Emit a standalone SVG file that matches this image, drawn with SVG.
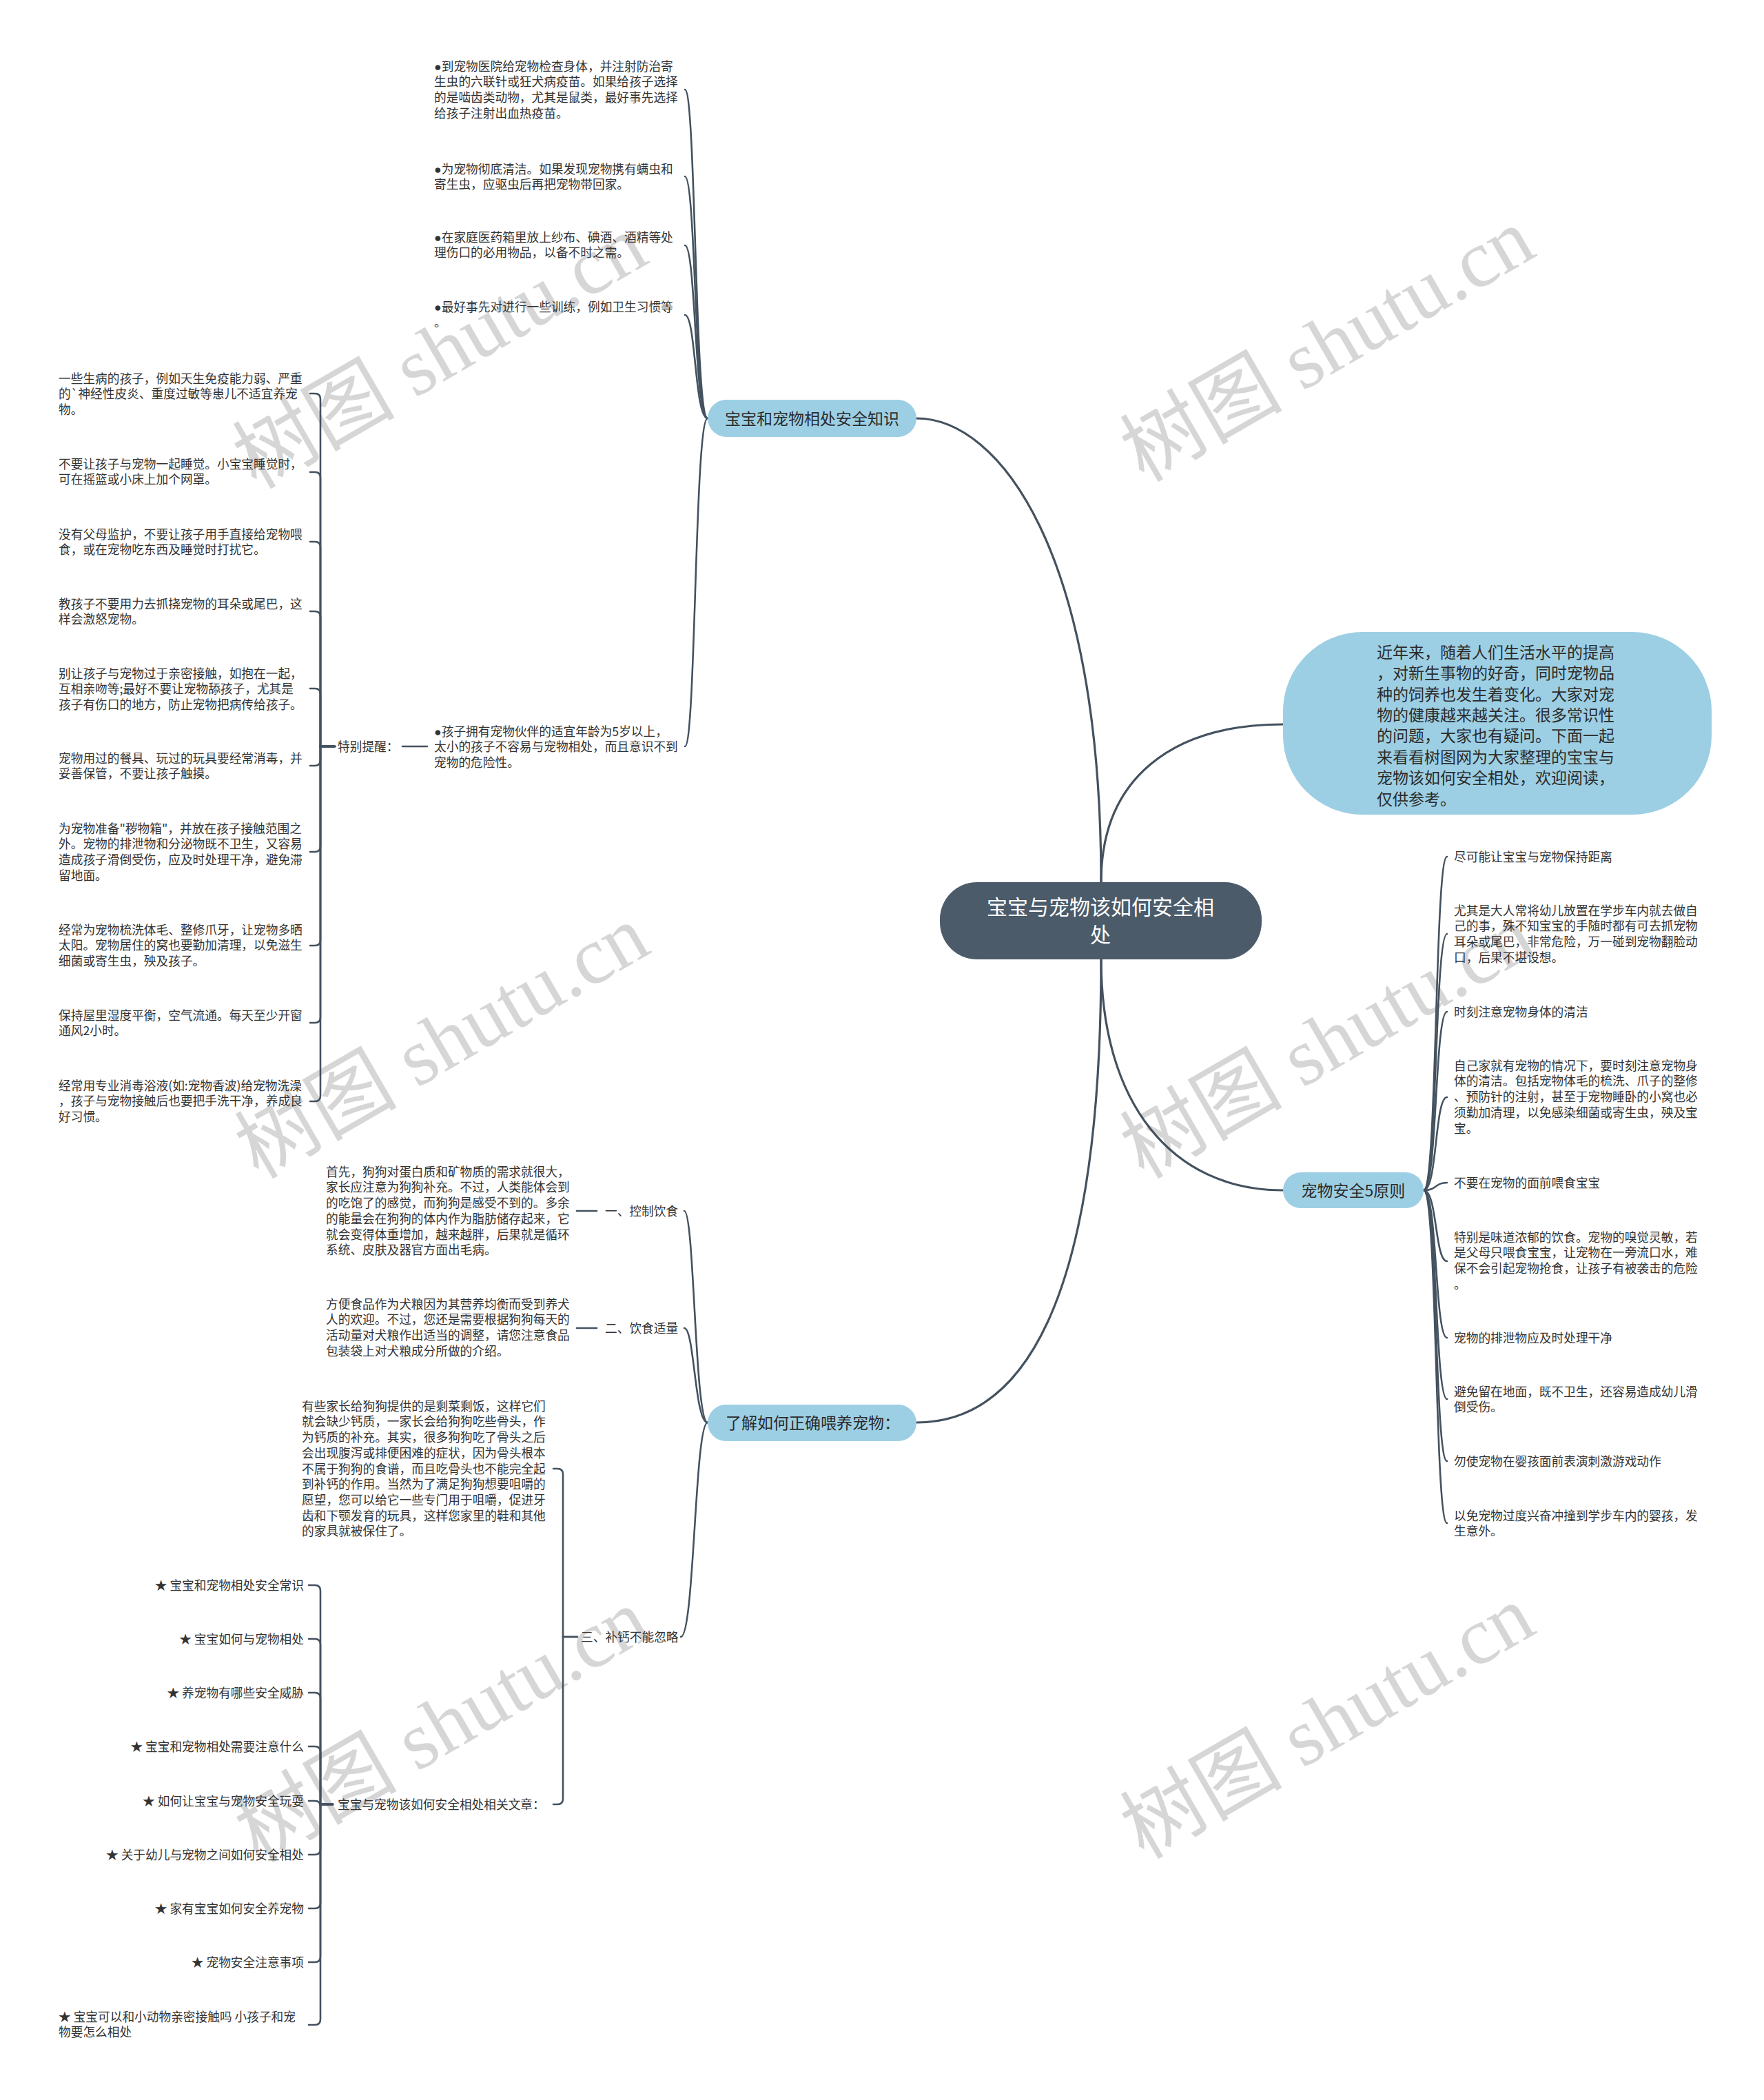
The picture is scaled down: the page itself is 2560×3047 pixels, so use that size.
<svg xmlns="http://www.w3.org/2000/svg" width="2560" height="3047" viewBox="0 0 2560 3047">
<style>
.t{font-family:"Noto Sans CJK SC","Liberation Sans",sans-serif;font-size:17.7px;fill:#333333}
.bu{font-family:"Liberation Sans","Noto Sans CJK SC",sans-serif}
.b{font-family:"Noto Sans CJK SC","Liberation Sans",sans-serif;font-size:23px;fill:#2b2b2b}
.rt{font-family:"Noto Sans CJK SC","Liberation Sans",sans-serif;font-size:30px;fill:#ffffff}
.c{fill:none;stroke:#44525f;stroke-width:2.6;stroke-linecap:round}
.cm{fill:none;stroke:#44525f;stroke-width:3.2;stroke-linecap:round}
.blue{fill:#9dcfe4}
.wm{font-family:"Liberation Serif","Noto Sans CJK SC",serif;font-size:118px;fill:#d6d6d6}
</style>
<rect x="0" y="0" width="2560" height="3047" fill="#ffffff"/>
<g id="watermarks">
<text class="wm" x="641" y="550" text-anchor="middle" transform="rotate(-30 641 515)">树图 shutu.cn</text>
<text class="wm" x="1929" y="540" text-anchor="middle" transform="rotate(-30 1929 505)">树图 shutu.cn</text>
<text class="wm" x="644" y="1551" text-anchor="middle" transform="rotate(-30 644 1516)">树图 shutu.cn</text>
<text class="wm" x="1929" y="1551" text-anchor="middle" transform="rotate(-30 1929 1516)">树图 shutu.cn</text>
<text class="wm" x="644" y="2543" text-anchor="middle" transform="rotate(-30 644 2508)">树图 shutu.cn</text>
<text class="wm" x="1929" y="2538" text-anchor="middle" transform="rotate(-30 1929 2503)">树图 shutu.cn</text>
</g>
<g id="connectors">
<path class="cm" d="M1598 1280 C1598 800 1450 607 1330 607"/>
<path class="cm" d="M1598 1280 C1598 1130 1700 1051 1862 1051"/>
<path class="cm" d="M1598 1392 C1598 1600 1700 1727 1862 1727"/>
<path class="cm" d="M1598 1392 C1598 1900 1480 2064 1330 2064"/>
<path class="c" d="M994 130 C1010 130 1008 607 1027 607"/>
<path class="c" d="M994 256 C1010 256 1008 607 1027 607"/>
<path class="c" d="M994 356 C1010 356 1008 607 1027 607"/>
<path class="c" d="M994 457 C1010 457 1008 607 1027 607"/>
<path class="c" d="M994 1083 C1010 1083 1008 607 1027 607"/>
<path class="c" d="M620 1083 H584"/>
<path class="c" d="M486 1083 H465 V579 Q465 571 457 571 H450"/>
<path class="c" d="M486 1083 H465 V693 Q465 685 457 685 H450"/>
<path class="c" d="M486 1083 H465 V794 Q465 786 457 786 H450"/>
<path class="c" d="M486 1083 H465 V895 Q465 887 457 887 H450"/>
<path class="c" d="M486 1083 H465 V1007 Q465 999 457 999 H450"/>
<path class="c" d="M486 1083 H465 V1103 Q465 1111 457 1111 H450"/>
<path class="c" d="M486 1083 H465 V1228 Q465 1236 457 1236 H450"/>
<path class="c" d="M486 1083 H465 V1364 Q465 1372 457 1372 H450"/>
<path class="c" d="M486 1083 H465 V1476 Q465 1484 457 1484 H450"/>
<path class="c" d="M486 1083 H465 V1590 Q465 1598 457 1598 H450"/>
<path class="c" d="M2066 1727 C2086 1727 2082 1243 2100 1243"/>
<path class="c" d="M2066 1727 C2086 1727 2082 1355 2100 1355"/>
<path class="c" d="M2066 1727 C2086 1727 2082 1468 2100 1468"/>
<path class="c" d="M2066 1727 C2086 1727 2082 1592 2100 1592"/>
<path class="c" d="M2066 1727 C2086 1727 2082 1716 2100 1716"/>
<path class="c" d="M2066 1727 C2086 1727 2082 1830 2100 1830"/>
<path class="c" d="M2066 1727 C2086 1727 2082 1941 2100 1941"/>
<path class="c" d="M2066 1727 C2086 1727 2082 2030 2100 2030"/>
<path class="c" d="M2066 1727 C2086 1727 2082 2120 2100 2120"/>
<path class="c" d="M2066 1727 C2086 1727 2082 2210 2100 2210"/>
<path class="c" d="M993 1757 C1008 1757 1008 2064 1027 2064"/>
<path class="c" d="M993 1927 C1008 1927 1008 2064 1027 2064"/>
<path class="c" d="M988 2375 C1008 2375 1008 2064 1027 2064"/>
<path class="c" d="M866 1757 H837"/>
<path class="c" d="M866 1927 H837"/>
<path class="c" d="M838 2375 H817 V2139 Q817 2131 809 2131 H803"/>
<path class="c" d="M838 2375 H817 V2610 Q817 2618 809 2618 H803"/>
<path class="c" d="M483 2618 H465 V2308 Q465 2300 457 2300 H448"/>
<path class="c" d="M483 2618 H465 V2386 Q465 2378 457 2378 H448"/>
<path class="c" d="M483 2618 H465 V2464 Q465 2456 457 2456 H448"/>
<path class="c" d="M483 2618 H465 V2542 Q465 2534 457 2534 H448"/>
<path class="c" d="M483 2618 H465 V2621 Q465 2613 457 2613 H448"/>
<path class="c" d="M483 2618 H465 V2683 Q465 2691 457 2691 H448"/>
<path class="c" d="M483 2618 H465 V2761 Q465 2769 457 2769 H448"/>
<path class="c" d="M483 2618 H465 V2839 Q465 2847 457 2847 H448"/>
<path class="c" d="M483 2618 H465 V2930 Q465 2938 457 2938 H448"/>
</g>
<g id="root">
<rect x="1364" y="1280" width="467" height="112" rx="54" fill="#4b5b6a"/>
<text class="rt" text-anchor="middle"><tspan x="1597" y="1327.4">宝宝与宠物该如何安全相</tspan><tspan x="1597" y="1367.4">处</tspan></text>
</g>
<g id="intro">
<rect class="blue" x="1862" y="917" width="622" height="265" rx="115"/>
<text class="b"><tspan x="1998" y="954.7">近年来，随着人们生活水平的提高</tspan><tspan x="1998" dy="30.4">，对新生事物的好奇，同时宠物品</tspan><tspan x="1998" dy="30.4">种的饲养也发生着变化。大家对宠</tspan><tspan x="1998" dy="30.4">物的健康越来越关注。很多常识性</tspan><tspan x="1998" dy="30.4">的问题，大家也有疑问。下面一起</tspan><tspan x="1998" dy="30.4">来看看树图网为大家整理的宝宝与</tspan><tspan x="1998" dy="30.4">宠物该如何安全相处，欢迎阅读，</tspan><tspan x="1998" dy="30.4">仅供参考。</tspan></text>
</g>
<g id="branch-knowledge">
<rect class="blue" x="1027" y="580" width="303" height="54" rx="27"/>
<text class="b" x="1178.5" y="615.7" text-anchor="middle">宝宝和宠物相处安全知识</text>
</g>
<g id="k1"><text class="t"><tspan x="630" y="102.7"><tspan class="bu">●</tspan>到宠物医院给宠物检查身体，并注射防治寄</tspan><tspan x="630" dy="22.7">生虫的六联针或狂犬病疫苗。如果给孩子选择</tspan><tspan x="630" dy="22.7">的是啮齿类动物，尤其是鼠类，最好事先选择</tspan><tspan x="630" dy="22.7">给孩子注射出血热疫苗。</tspan></text></g>
<g id="k2"><text class="t"><tspan x="630" y="251.7"><tspan class="bu">●</tspan>为宠物彻底清洁。如果发现宠物携有螨虫和</tspan><tspan x="630" dy="22.7">寄生虫，应驱虫后再把宠物带回家。</tspan></text></g>
<g id="k3"><text class="t"><tspan x="630" y="350.7"><tspan class="bu">●</tspan>在家庭医药箱里放上纱布、碘酒、酒精等处</tspan><tspan x="630" dy="22.7">理伤口的必用物品，以备不时之需。</tspan></text></g>
<g id="k4"><text class="t"><tspan x="630" y="451.7"><tspan class="bu">●</tspan>最好事先对进行一些训练，例如卫生习惯等</tspan><tspan x="630" dy="22.7">。</tspan></text></g>
<g id="k5"><text class="t"><tspan x="630" y="1067.7"><tspan class="bu">●</tspan>孩子拥有宠物伙伴的适宜年龄为5岁以上，</tspan><tspan x="630" dy="22.7">太小的孩子不容易与宠物相处，而且意识不到</tspan><tspan x="630" dy="22.7">宠物的危险性。</tspan></text></g>
<g id="remind"><text class="t" x="490" y="1089.7">特别提醒：</text></g>
<g id="ra"><text class="t"><tspan x="85" y="555.7">一些生病的孩子，例如天生免疫能力弱、严重</tspan><tspan x="85" dy="22.7">的`神经性皮炎、重度过敏等患儿不适宜养宠</tspan><tspan x="85" dy="22.7">物。</tspan></text></g>
<g id="rb"><text class="t"><tspan x="85" y="679.7">不要让孩子与宠物一起睡觉。小宝宝睡觉时，</tspan><tspan x="85" dy="22.7">可在摇篮或小床上加个网罩。</tspan></text></g>
<g id="rc"><text class="t"><tspan x="85" y="781.7">没有父母监护，不要让孩子用手直接给宠物喂</tspan><tspan x="85" dy="22.7">食，或在宠物吃东西及睡觉时打扰它。</tspan></text></g>
<g id="rd"><text class="t"><tspan x="85" y="882.7">教孩子不要用力去抓挠宠物的耳朵或尾巴，这</tspan><tspan x="85" dy="22.7">样会激怒宠物。</tspan></text></g>
<g id="re"><text class="t"><tspan x="85" y="983.7">别让孩子与宠物过于亲密接触，如抱在一起，</tspan><tspan x="85" dy="22.7">互相亲吻等;最好不要让宠物舔孩子，尤其是</tspan><tspan x="85" dy="22.7">孩子有伤口的地方，防止宠物把病传给孩子。</tspan></text></g>
<g id="rf"><text class="t"><tspan x="85" y="1106.7">宠物用过的餐具、玩过的玩具要经常消毒，并</tspan><tspan x="85" dy="22.7">妥善保管，不要让孩子触摸。</tspan></text></g>
<g id="rg"><text class="t"><tspan x="85" y="1208.7">为宠物准备"秽物箱"，并放在孩子接触范围之</tspan><tspan x="85" dy="22.7">外。宠物的排泄物和分泌物既不卫生，又容易</tspan><tspan x="85" dy="22.7">造成孩子滑倒受伤，应及时处理干净，避免滞</tspan><tspan x="85" dy="22.7">留地面。</tspan></text></g>
<g id="rh"><text class="t"><tspan x="85" y="1355.7">经常为宠物梳洗体毛、整修爪牙，让宠物多晒</tspan><tspan x="85" dy="22.7">太阳。宠物居住的窝也要勤加清理，以免滋生</tspan><tspan x="85" dy="22.7">细菌或寄生虫，殃及孩子。</tspan></text></g>
<g id="ri"><text class="t"><tspan x="85" y="1479.7">保持屋里湿度平衡，空气流通。每天至少开窗</tspan><tspan x="85" dy="22.7">通风2小时。</tspan></text></g>
<g id="rj"><text class="t"><tspan x="85" y="1581.7">经常用专业消毒浴液(如:宠物香波)给宠物洗澡</tspan><tspan x="85" dy="22.7">，孩子与宠物接触后也要把手洗干净，养成良</tspan><tspan x="85" dy="22.7">好习惯。</tspan></text></g>
<g id="branch-principles">
<rect class="blue" x="1862" y="1701" width="204" height="52" rx="26"/>
<text class="b" x="1964" y="1735.7" text-anchor="middle">宠物安全5原则</text>
</g>
<g id="p1"><text class="t" x="2110" y="1249.7">尽可能让宝宝与宠物保持距离</text></g>
<g id="p2"><text class="t"><tspan x="2110" y="1327.7">尤其是大人常将幼儿放置在学步车内就去做自</tspan><tspan x="2110" dy="22.7">己的事，殊不知宝宝的手随时都有可去抓宠物</tspan><tspan x="2110" dy="22.7">耳朵或尾巴，非常危险，万一碰到宠物翻脸动</tspan><tspan x="2110" dy="22.7">口，后果不堪设想。</tspan></text></g>
<g id="p3"><text class="t" x="2110" y="1474.7">时刻注意宠物身体的清洁</text></g>
<g id="p4"><text class="t"><tspan x="2110" y="1552.7">自己家就有宠物的情况下，要时刻注意宠物身</tspan><tspan x="2110" dy="22.7">体的清洁。包括宠物体毛的梳洗、爪子的整修</tspan><tspan x="2110" dy="22.7">、预防针的注射，甚至于宠物睡卧的小窝也必</tspan><tspan x="2110" dy="22.7">须勤加清理，以免感染细菌或寄生虫，殃及宝</tspan><tspan x="2110" dy="22.7">宝。</tspan></text></g>
<g id="p5"><text class="t" x="2110" y="1722.7">不要在宠物的面前喂食宝宝</text></g>
<g id="p6"><text class="t"><tspan x="2110" y="1801.7">特别是味道浓郁的饮食。宠物的嗅觉灵敏，若</tspan><tspan x="2110" dy="22.7">是父母只喂食宝宝，让宠物在一旁流口水，难</tspan><tspan x="2110" dy="22.7">保不会引起宠物抢食，让孩子有被袭击的危险</tspan><tspan x="2110" dy="22.7">。</tspan></text></g>
<g id="p7"><text class="t" x="2110" y="1947.7">宠物的排泄物应及时处理干净</text></g>
<g id="p8"><text class="t"><tspan x="2110" y="2025.7">避免留在地面，既不卫生，还容易造成幼儿滑</tspan><tspan x="2110" dy="22.7">倒受伤。</tspan></text></g>
<g id="p9"><text class="t" x="2110" y="2126.7">勿使宠物在婴孩面前表演刺激游戏动作</text></g>
<g id="p10"><text class="t"><tspan x="2110" y="2205.7">以免宠物过度兴奋冲撞到学步车内的婴孩，发</tspan><tspan x="2110" dy="22.7">生意外。</tspan></text></g>
<g id="branch-feeding">
<rect class="blue" x="1027" y="2038" width="303" height="53" rx="26.5"/>
<text class="b" x="1053" y="2072.7">了解如何正确喂养宠物：</text>
</g>
<g id="f1"><text class="t" x="878" y="1763.7">一、控制饮食</text></g>
<g id="f1a"><text class="t"><tspan x="473" y="1706.7">首先，狗狗对蛋白质和矿物质的需求就很大，</tspan><tspan x="473" dy="22.7">家长应注意为狗狗补充。不过，人类能体会到</tspan><tspan x="473" dy="22.7">的吃饱了的感觉，而狗狗是感受不到的。多余</tspan><tspan x="473" dy="22.7">的能量会在狗狗的体内作为脂肪储存起来，它</tspan><tspan x="473" dy="22.7">就会变得体重增加，越来越胖，后果就是循环</tspan><tspan x="473" dy="22.7">系统、皮肤及器官方面出毛病。</tspan></text></g>
<g id="f2"><text class="t" x="878" y="1933.7">二、饮食适量</text></g>
<g id="f2a"><text class="t"><tspan x="473" y="1898.7">方便食品作为犬粮因为其营养均衡而受到养犬</tspan><tspan x="473" dy="22.7">人的欢迎。不过，您还是需要根据狗狗每天的</tspan><tspan x="473" dy="22.7">活动量对犬粮作出适当的调整，请您注意食品</tspan><tspan x="473" dy="22.7">包装袋上对犬粮成分所做的介绍。</tspan></text></g>
<g id="f3"><text class="t" x="843" y="2381.7">三、补钙不能忽略</text></g>
<g id="f3a"><text class="t"><tspan x="438" y="2046.7">有些家长给狗狗提供的是剩菜剩饭，这样它们</tspan><tspan x="438" dy="22.7">就会缺少钙质，一家长会给狗狗吃些骨头，作</tspan><tspan x="438" dy="22.7">为钙质的补充。其实，很多狗狗吃了骨头之后</tspan><tspan x="438" dy="22.7">会出现腹泻或排便困难的症状，因为骨头根本</tspan><tspan x="438" dy="22.7">不属于狗狗的食谱，而且吃骨头也不能完全起</tspan><tspan x="438" dy="22.7">到补钙的作用。当然为了满足狗狗想要咀嚼的</tspan><tspan x="438" dy="22.7">愿望，您可以给它一些专门用于咀嚼，促进牙</tspan><tspan x="438" dy="22.7">齿和下颚发育的玩具，这样您家里的鞋和其他</tspan><tspan x="438" dy="22.7">的家具就被保住了。</tspan></text></g>
<g id="f3b"><text class="t" x="490" y="2624.7">宝宝与宠物该如何安全相处相关文章：</text></g>
<g id="s1"><text class="t" x="441" y="2306.7" text-anchor="end">★ 宝宝和宠物相处安全常识</text></g>
<g id="s2"><text class="t" x="441" y="2384.7" text-anchor="end">★ 宝宝如何与宠物相处</text></g>
<g id="s3"><text class="t" x="441" y="2462.7" text-anchor="end">★ 养宠物有哪些安全威胁</text></g>
<g id="s4"><text class="t" x="441" y="2540.7" text-anchor="end">★ 宝宝和宠物相处需要注意什么</text></g>
<g id="s5"><text class="t" x="441" y="2619.7" text-anchor="end">★ 如何让宝宝与宠物安全玩耍</text></g>
<g id="s6"><text class="t" x="441" y="2697.7" text-anchor="end">★ 关于幼儿与宠物之间如何安全相处</text></g>
<g id="s7"><text class="t" x="441" y="2775.7" text-anchor="end">★ 家有宝宝如何安全养宠物</text></g>
<g id="s8"><text class="t" x="441" y="2853.7" text-anchor="end">★ 宠物安全注意事项</text></g>
<g id="s9"><text class="t"><tspan x="85" y="2932.7">★ 宝宝可以和小动物亲密接触吗 小孩子和宠</tspan><tspan x="85" dy="22.7">物要怎么相处</tspan></text></g>
</svg>
